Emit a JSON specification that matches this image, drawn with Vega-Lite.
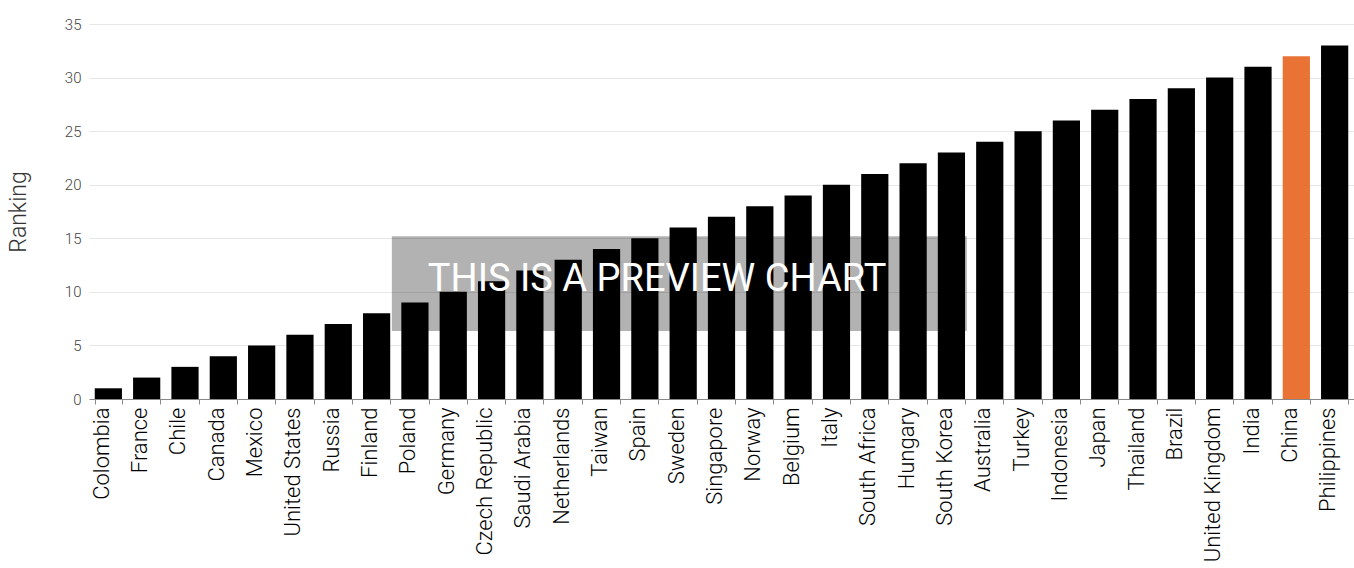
{
  "$schema": "https://vega.github.io/schema/vega-lite/v6.json",
  "width": 1265,
  "height": 375,
  "autosize": "none",
  "padding": {"left": 89, "top": 24, "right": 0, "bottom": 169},
  "background": "white",
  "config": {"view": {"stroke": null}, "font": "Roboto"},
  "datasets": {
    "rank": [
      {"country": "Colombia", "ranking": 1, "highlight": "no"},
      {"country": "France", "ranking": 2, "highlight": "no"},
      {"country": "Chile", "ranking": 3, "highlight": "no"},
      {"country": "Canada", "ranking": 4, "highlight": "no"},
      {"country": "Mexico", "ranking": 5, "highlight": "no"},
      {"country": "United States", "ranking": 6, "highlight": "no"},
      {"country": "Russia", "ranking": 7, "highlight": "no"},
      {"country": "Finland", "ranking": 8, "highlight": "no"},
      {"country": "Poland", "ranking": 9, "highlight": "no"},
      {"country": "Germany", "ranking": 10, "highlight": "no"},
      {"country": "Czech Republic", "ranking": 11, "highlight": "no"},
      {"country": "Saudi Arabia", "ranking": 12, "highlight": "no"},
      {"country": "Netherlands", "ranking": 13, "highlight": "no"},
      {"country": "Taiwan", "ranking": 14, "highlight": "no"},
      {"country": "Spain", "ranking": 15, "highlight": "no"},
      {"country": "Sweden", "ranking": 16, "highlight": "no"},
      {"country": "Singapore", "ranking": 17, "highlight": "no"},
      {"country": "Norway", "ranking": 18, "highlight": "no"},
      {"country": "Belgium", "ranking": 19, "highlight": "no"},
      {"country": "Italy", "ranking": 20, "highlight": "no"},
      {"country": "South Africa", "ranking": 21, "highlight": "no"},
      {"country": "Hungary", "ranking": 22, "highlight": "no"},
      {"country": "South Korea", "ranking": 23, "highlight": "no"},
      {"country": "Australia", "ranking": 24, "highlight": "no"},
      {"country": "Turkey", "ranking": 25, "highlight": "no"},
      {"country": "Indonesia", "ranking": 26, "highlight": "no"},
      {"country": "Japan", "ranking": 27, "highlight": "no"},
      {"country": "Thailand", "ranking": 28, "highlight": "no"},
      {"country": "Brazil", "ranking": 29, "highlight": "no"},
      {"country": "United Kingdom", "ranking": 30, "highlight": "no"},
      {"country": "India", "ranking": 31, "highlight": "no"},
      {"country": "China", "ranking": 32, "highlight": "yes"},
      {"country": "Philippines", "ranking": 33, "highlight": "no"}
    ],
    "watermark": [
      {"x1": 7.9, "x2": 22.9, "y1": 6.35, "y2": 15.2, "tx": 14.82, "ty": 11.1, "label": "THIS IS A PREVIEW CHART"}
    ]
  },
  "layer": [
    {
      "data": {"name": "rank"},
      "mark": {"type": "bar"},
      "encoding": {
        "x": {
          "field": "country", "type": "nominal", "sort": null,
          "scale": {"paddingInner": 0.29, "paddingOuter": 0.15},
          "axis": {
            "title": null, "labelAngle": -90, "labelFontSize": 22, "labelFontWeight": 300, "labelColor": "#000",
            "labelFont": "Roboto", "labelPadding": 3, "tickBand": "extent",
            "domainColor": "#888", "tickColor": "#888", "tickSize": 5, "labelAlign": "right", "labelBaseline": "alphabetic"
          }
        },
        "y": {
          "field": "ranking", "type": "quantitative",
          "scale": {"domain": [0, 35]},
          "axis": {
            "title": "Ranking", "titleFontSize": 23, "titleFontWeight": 300, "titleColor": "#333",
            "titlePadding": 34, "values": [0, 5, 10, 15, 20, 25, 30, 35],
            "labelFontSize": 15, "labelFontWeight": 300, "labelColor": "#444", "labelPadding": 8,
            "domain": false, "ticks": false, "gridColor": "#e6e6e6"
          }
        },
        "color": {
          "field": "highlight", "type": "nominal",
          "scale": {"domain": ["no", "yes"], "range": ["#000000", "#e87334"]},
          "legend": null
        }
      }
    },
    {
      "data": {"name": "watermark"},
      "mark": {"type": "rect", "color": "#000000", "opacity": 0.3},
      "encoding": {
        "x": {"field": "x1", "type": "quantitative", "scale": {"domain": [0, 33]}, "axis": null},
        "x2": {"field": "x2"},
        "y": {"field": "y1", "type": "quantitative"},
        "y2": {"field": "y2"}
      }
    },
    {
      "data": {"name": "watermark"},
      "mark": {"type": "text", "color": "white", "fontSize": 38, "font": "Roboto", "fontWeight": 400, "align": "center", "baseline": "middle"},
      "encoding": {
        "x": {"field": "tx", "type": "quantitative", "scale": {"domain": [0, 33]}, "axis": null},
        "y": {"field": "ty", "type": "quantitative"},
        "text": {"field": "label"}
      }
    }
  ],
  "resolve": {"scale": {"x": "independent"}}
}
